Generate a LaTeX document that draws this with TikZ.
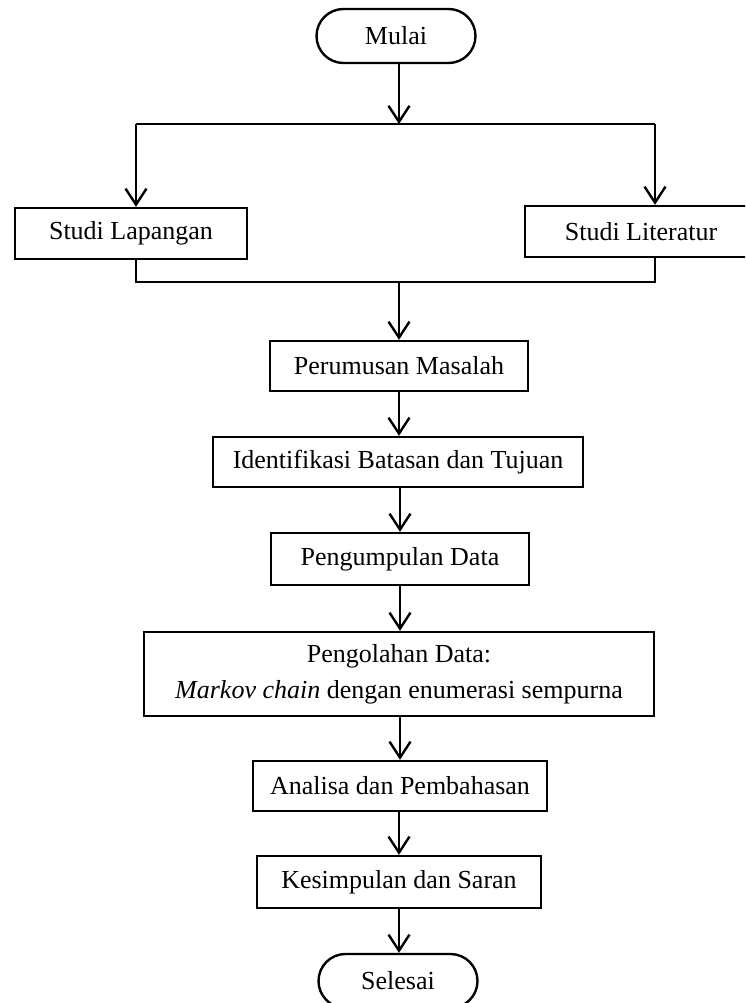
\documentclass[tikz,border=0pt]{standalone}
\usepackage{fontspec}
\setmainfont{Liberation Serif}
\usetikzlibrary{arrows.meta}
\begin{document}
\begin{tikzpicture}[x=1pt,y=-1pt,
  line width=2.4pt,
  every node/.style={font=\fontsize{26}{36}\selectfont, inner sep=0pt, align=center},
  procbox/.style={draw, rectangle},
  termbox/.style={draw, rectangle, rounded corners=27pt, minimum width=159pt, minimum height=54pt},
  flow/.style={-{Straight Barb[length=16pt,width=21pt]}}
]
\useasboundingbox (0,0) rectangle (745,1003);
\clip (0,0) rectangle (745,1003);

\node[termbox] (mulai) at (396,36) {Mulai};
\node[procbox, minimum width=232pt, minimum height=51pt] (lap) at (131,233.5) {Studi Lapangan};
\node[procbox, minimum width=232pt, minimum height=51pt] (lit) at (641,231.5) {Studi Literatur};
\node[procbox, minimum width=258pt, minimum height=50pt] (rumus) at (399,366) {Perumusan Masalah};
\node[procbox, minimum width=370pt, minimum height=50pt] (ident) at (398,462) {Identifikasi Batasan dan Tujuan};
\node[procbox, minimum width=258pt, minimum height=52pt] (kumpul) at (400,559) {Pengumpulan Data};
\node[procbox, minimum width=510pt, minimum height=84pt] (olah) at (399,674) {Pengolahan Data:\\\textit{Markov chain} dengan enumerasi sempurna};
\node[procbox, minimum width=294pt, minimum height=50pt] (analisa) at (400,786) {Analisa dan Pembahasan};
\node[procbox, minimum width=284pt, minimum height=52pt] (simpul) at (399,882) {Kesimpulan dan Saran};
\node[termbox] (selesai) at (398,981) {Selesai};

\coordinate (split) at (399,124);
\coordinate (sl) at (136,124);
\coordinate (sr) at (655,124);
\coordinate (jl) at (136,282);
\coordinate (jr) at (655,282);
\coordinate (join) at (399,282);

\draw[flow] (mulai.south -| split) -- (split);
\draw (sl) -- (sr);
\draw[flow] (sl) -- (sl |- lap.north);
\draw[flow] (sr) -- (sr |- lit.north);
\draw (lap.south -| jl) -- (jl) -- (jr) -- (lit.south -| jr);
\draw[flow] (join) -- (join |- rumus.north);
\draw[flow] (rumus.south) -- (rumus.south |- ident.north);
\draw[flow] (ident.south -| kumpul.south) -- (kumpul.north);
\draw[flow] (kumpul.south) -- (kumpul.south |- olah.north);
\draw[flow] (olah.south -| analisa.south) -- (analisa.north);
\draw[flow] (analisa.south -| simpul.south) -- (simpul.north);
\draw[flow] (simpul.south) -- (simpul.south |- selesai.north);
\end{tikzpicture}
\end{document}
